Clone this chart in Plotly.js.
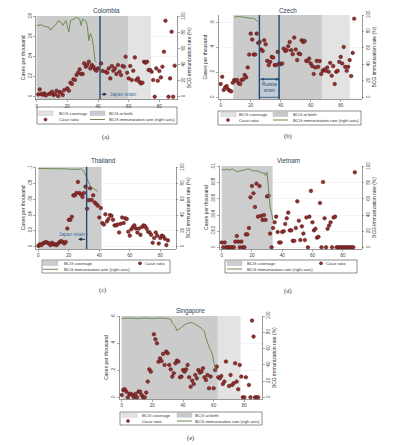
<!DOCTYPE html>
<html><head><meta charset="utf-8">
<script src="https://cdn.plot.ly/plotly-3.0.1.min.js"></script>
<style>html,body{margin:0;padding:0;background:#fff}#c{width:399px;height:445px}</style>
</head><body><div id="c"></div><script>
const W=399,H=445;
// ---------- DATA ----------
const colombiaAges=[1,2,3,4,5,6,8,9,10,11,12,13,14,15,16,17,18,20,21,22,23,24,25,26,27,28,29,30,31,32,33,34,35,36,37,38,39,40,
42,43,45,46,47,48,49,50,51,52,53,54,55,56,57,58,59,60,61,62,63,64,65,66,67,68,69,70,71,72,73,74,75,76,77,78,79,80,81,82,83,84,86,87,88,89,90];
const colombiaCases=[.0023,.0073,.0027,.002,.0033,.0013,.0027,.0033,.005,.0017,.0027,.006,.0007,.0047,.004,.0017,.0067,.0083,.006,.014,.0127,.0173,.0167,.0217,.024,.0273,.0227,.0227,.0333,.03,.0317,.035,.0283,.0317,.03,.0273,.026,.0283,
.0333,.0257,.025,.024,.0283,.0183,.0307,.026,.0283,.0227,.0317,.025,.0217,.0307,.03,.04,.024,.0183,.0307,.0167,.026,.0393,.0167,.0183,.015,.0133,.014,.035,.034,.035,.0267,.0267,.025,.0167,0,.0283,.016,.0257,.0193,.03,.045,.076,0,.0183,.065,0,.031];
const colombiaRateAges=[0,3,5,8,9,11,13,14,16,17,19,21,22,24,26,28,29,30,32,33,34,35,36,37,38,39];
const colombiaRate=[89,90,88,87,83,88,91,95,93,89,95,81,95,97,99,97,89,97,95,89,70,79,74,64,45,43];
const colombiaCoverage=[0,74.5], colombiaAtBirth=[0,59.5], colombiaStrain=[41.3];

const czechAges=Array.from({length:90},(_,i)=>i);
const czechCases=[.107,.165,.059,.08,.09,.064,.053,.048,.117,.139,.133,.139,.112,.107,.139,.144,.179,.16,.24,.344,.512,.464,.344,.344,.512,.437,.445,.384,.373,.459,.427,.293,.259,.285,.325,.32,.259,.259,.365,.272,.267,.272,.392,.373,.379,.411,.445,.379,.347,.48,.384,.299,.352,.347,.459,.445,.453,.293,.293,.312,.272,.251,.187,.24,.293,.245,.291,.187,.213,.224,.213,.24,.205,.277,.173,.251,.107,.205,.213,.285,.325,.272,.405,.245,.213,.245,.299,.171,.357,.632];
const czechRateAges=[9,10,13,16,19,20,22,23,24,25];
const czechRate=[97,98,98,97,96,96,96,95,93,92];
const czechCoverage=[8.5,86], czechAtBirth=[8.5,67.5], czechStrain=[25.8,38.9];

const thailandAges=Array.from({length:86},(_,i)=>i);
const thailandCases=[.001,.003,.002,.004,.005,.006,.005,.004,.002,.005,.003,.003,.002,.004,.006,.007,.006,.004,.006,.023,.034,.034,.038,.065,.065,.068,.082,.068,.066,.063,.068,.076,.048,.059,.074,.059,.065,.056,.054,.052,.037,.049,.030,.028,.041,.032,.035,.040,.039,.034,.027,.027,.028,.018,.029,.037,.030,.036,.035,.019,.014,.022,.025,.027,.023,.018,.023,.015,.025,.027,.026,.023,.019,.018,.015,.005,.011,.018,.014,.004,.011,.014,.013,.010,.002,.008];
const thailandRateAges=[0,4,8,12,16,19,20,22,24,26,28,29,30,31,32,33,34,35,36,37,38,39];
const thailandRate=[99,99,99,99,99,98.5,98,98,97.5,98,98.5,97.5,95,90,86,81,77,75,74,73,72,70];
const thailandCoverage=[0,41.5], thailandStrain=[31.7];

const vietnamAges=Array.from({length:89},(_,i)=>i);
const vietnamCases=[.0006,0,.0006,0,0,0,0,0,0,.0007,.0014,.0007,0,.0007,0,0,.0016,.0016,.0024,.0062,.0076,.0067,.005,.0079,.0038,.0076,.0039,.0034,.004,.0034,.0063,.0064,.0017,0,.0024,.0031,.0038,.0019,.0006,.0006,.0019,.002,.0029,.0036,.0043,.0021,.0021,.0008,.0008,.0024,.0057,.0033,.0009,.0026,.0017,.0009,.0037,0,.0038,.007,.0031,.0021,.0023,.0012,.0013,.0055,0,.0081,.0036,0,.0023,.0027,.0031,0,.0037,.0038,0,0,0,0,0,0,0,0,0,0,0,0,.0093];
const vietnamRateAges=[0,2,4,5,7,9,10,12,14,15,17,19,21,22,24,25,27,28,29,30,31,32,33,34];
const vietnamRate=[96.7,95.9,97.1,95.9,97.1,94.6,93.8,94.6,95,95.9,97.1,96.7,94.6,95,94.6,93.8,91.7,92.9,89,93,65,50,42,33];
const vietnamCoverage=[0,33.7];

const singaporeAges=[0,1,2,3,4,5,6,7,8,9,10,11,12,13,14,15,16,17,18,19,21,22,23,24,25,26,27,28,29,30,31,32,33,34,35,36,37,38,39,40,41,42,43,44,45,46,47,48,49,50,51,52,53,54,55,56,57,58,60,61,62,63,64,65,66,67,68,70,71,72,73,74,75,76,77,78,79,80,81,83,84,85,86,87,88,89];
const singaporeCases=[.017,.055,.06,.042,0,.025,.025,.017,0,.025,0,.042,.042,.017,0,0,.035,.117,.208,.191,.469,.432,.402,.265,.29,.27,.323,.241,.34,.328,.241,.208,.154,.179,.253,.273,.266,.149,.154,.203,.191,.208,.241,.149,.079,.124,.099,.166,.141,.203,.184,.191,.216,.149,.129,.166,.067,.154,.067,.203,.228,.149,.141,.159,.099,.117,.266,.084,.166,.092,.104,.253,.117,.06,.241,.154,0,0,.149,.092,0,.571,.452,0,0,0];
const singaporeRateAges=[0,5,10,15,20,25,30,32,33,35,36,38,39,41,43,46,48,50,52,54,55,57,59,60,61,62];
const singaporeRate=[97,97.5,97,97.5,97,97.5,97,96,91,87,82,84,86,89,91,92,90,88,85,81,72.5,62,54,44,36,32];
const singaporeCoverage=[0,77.5], singaporeAtBirth=[0,62.5];

const xTicks=[0,20,40,60,80];
const rTicks=[0,20,40,60,80,100];
// ---------- STYLE ----------
const C_BIRTH='#cbcbcb', C_COV='#e3e3e3', C_COV2='#cdcdcd';
const C_PT='#93302f', C_PTL='#4d1111', C_LINE='#6d8b52', C_STRAIN='#1f4e79';
const FT='Liberation Sans, Arial, sans-serif';

const P=[
 {title:'Colombia',cap:'(a)',capXY:[105,137],titleXY:[106,10],box:{l:36,r:177,t:16,b:99.5},x0:36.7,ppa:1.533,y0:96.7,yTop:16.7,yTopVal:.08,rTop:16.7,
  ticks:[0,.02,.04,.06,.08],tickText:['0','.02','.04','.06','.08'],ages:colombiaAges,cases:colombiaCases,rAges:colombiaRateAges,rate:colombiaRate,
  shades:[[colombiaCoverage,C_COV],[colombiaAtBirth,C_BIRTH]],strains:colombiaStrain,
  legend:{box:[37,107,177,124],items:[['rect',38,113.3,C_COV,57,'BCG coverage'],['rect',90,113.3,C_BIRTH,107,'BCG at birth'],['dot',45.5,119.5,null,57,'Case ratio'],['line',90,119.5,null,107,'BCG immunization arte (right axis)']]}},
 {title:'Czech',cap:'(b)',capXY:[288,136],titleXY:[288,10],box:{l:218.3,r:361.7,t:15,b:99.3},x0:220.7,ppa:1.5,y0:97.3,yTop:22.7,yTopVal:.6,rTop:15,
  ticks:[0,.2,.4,.6],tickText:['0','.2','.4','.6'],ages:czechAges,cases:czechCases,rAges:czechRateAges,rate:czechRate,
  shades:[[czechCoverage,C_COV],[czechAtBirth,C_BIRTH]],strains:czechStrain,
  legend:{box:[218,111,361,125],items:[['rect',221,114.3,C_COV,237,'BCG coverage'],['rect',273,114.3,C_BIRTH,291,'BCG at birth'],['dot',228,120,null,237,'Case ratio'],['line',273,120,null,291,'BCG immunization rate (right axis)']]}},
 {title:'Thailand',cap:'(c)',capXY:[102,290],titleXY:[103,160],box:{l:36,r:175.7,t:166.7,b:249},x0:38.3,ppa:1.525,y0:246.7,yTop:167.7,yTopVal:.1,rTop:167.7,
  ticks:[0,.02,.04,.06,.08,.1],tickText:['0','.02','.04','.06','.08','.1'],ages:thailandAges,cases:thailandCases,rAges:thailandRateAges,rate:thailandRate,
  shades:[[thailandCoverage,C_COV2]],strains:thailandStrain,
  legend:{box:[42,260,170,273],items:[['rect',43,263.3,C_COV2,62,'BCG coverage'],['dot',140,263.3,null,143,'Case ratio'],['line',43,269.3,null,62,'BCG immunization arte (right axis)']]}},
 {title:'Vietnam',cap:'(d)',capXY:[288,291],titleXY:[288,160],box:{l:219.3,r:361.7,t:166,b:249},x0:221.7,ppa:1.5125,y0:247.3,yTop:166.7,yTopVal:.01,rTop:166.7,
  ticks:[0,.002,.004,.006,.008,.01],tickText:['0','.002','.004','.006','.008','.01'],ages:vietnamAges,cases:vietnamCases,rAges:vietnamRateAges,rate:vietnamRate,
  shades:[[vietnamCoverage,C_COV2]],strains:[],
  legend:{box:[225,260,357,273],items:[['rect',227,263.3,C_COV2,245,'BCG coverage'],['dot',321,263.3,null,324,'Case ratio'],['line',227,269,null,245,'BCG immunization rate (right axis)']]}},
 {title:'Singapore',cap:'(e)',capXY:[190,438],titleXY:[190,311],box:{l:119.3,r:262.3,t:316,b:399.3},x0:121.7,ppa:1.533,y0:397.3,yTop:316.7,yTopVal:.6,rTop:316,
  ticks:[0,.2,.4,.6],tickText:['0','.2','.4','.6'],ages:singaporeAges,cases:singaporeCases,rAges:singaporeRateAges,rate:singaporeRate,
  shades:[[singaporeCoverage,C_COV],[singaporeAtBirth,C_BIRTH]],strains:[],
  legend:{box:[120,412,262,425],items:[['rect',122,415,C_COV,140,'BCG coverage'],['rect',177,415,C_BIRTH,193,'BCG at birth'],['dot',128,421,null,140,'Case ratio'],['line',177,421,null,193,'BCG immunization rate (righ axis)']]}}
];

const data=[], shapes=[], ann=[];
const layout={width:W,height:H,margin:{l:0,r:0,t:0,b:0},paper_bgcolor:'#fff',plot_bgcolor:'#fff',showlegend:false,barmode:'overlay',
  font:{family:FT,size:5,color:'#333'}};
const px=x=>x/W, py=y=>1-y/H;
const tickFont={family:FT,size:4.6,color:'#444'};

P.forEach((p,i)=>{
  const xid='x'+(i?i+1:''), yl='y'+(2*i+1===1?'':2*i+1), yr='y'+(2*i+2);
  const xk='xaxis'+(i?i+1:''), ylk='yaxis'+(2*i+1===1?'':2*i+1), yrk='yaxis'+(2*i+2);
  p.ids={xid,yl,yr};
  const b=p.box;
  const ppu=(p.y0-p.yTop)/p.yTopVal, ppr=(p.y0-p.rTop)/100;
  const yLo=-(b.b-p.y0)/ppu, yHi=(p.y0-b.t)/ppu;
  layout[xk]={domain:[px(b.l),px(b.r)],anchor:yl,range:[(b.l-p.x0)/p.ppa,(b.r-p.x0)/p.ppa],tickvals:xTicks,
    ticks:'outside',ticklen:2,tickwidth:.5,tickcolor:'#555',showline:true,linecolor:'#555',linewidth:.6,showgrid:false,zeroline:false,tickfont:tickFont};
  layout[ylk]={domain:[py(b.b),py(b.t)],anchor:xid,range:[yLo,yHi],tickvals:p.ticks,ticktext:p.tickText,tickangle:-90,
    ticks:'outside',ticklen:2,tickwidth:.5,tickcolor:'#555',showline:true,linecolor:'#555',linewidth:.6,showgrid:true,gridcolor:'#ebebeb',gridwidth:.5,zeroline:false,
    tickfont:tickFont,title:{text:'Cases per thousand',font:{family:FT,size:5,color:'#333'},standoff:1}};
  layout[yrk]={overlaying:yl,side:'right',anchor:xid,range:[-(b.b-p.y0)/ppr,(p.y0-b.t)/ppr],tickvals:rTicks,tickangle:-90,
    ticks:'outside',ticklen:2,tickwidth:.5,tickcolor:'#555',showline:true,linecolor:'#555',linewidth:.6,showgrid:false,zeroline:false,
    tickfont:tickFont,title:{text:'BCG immunization rate (%)',font:{family:FT,size:5,color:'#333'},standoff:1}};
  // shading as bars spanning the full plot height
  p.shades.forEach(([r,c])=>data.push({type:'bar',x:[(r[0]+r[1])/2],width:[r[1]-r[0]],base:[yLo],y:[yHi-yLo],xaxis:xid,yaxis:yl,
    marker:{color:c,line:{width:0}},hoverinfo:'skip'}));
  if(p.title==='Czech'){
    data.push({type:'bar',x:[(czechStrain[0]+czechStrain[1])/2],width:[czechStrain[1]-czechStrain[0]],base:[0],y:[.146],xaxis:xid,yaxis:yl,
      marker:{color:'#c4ccd7',line:{color:C_STRAIN,width:.8}},hoverinfo:'skip'});
  }
  p.strains.forEach(s=>shapes.push({type:'line',xref:xid,yref:yl+' domain',x0:s,x1:s,y0:0,y1:1,line:{color:C_STRAIN,width:1.4}}));
  data.push({type:'scatter',mode:'markers',x:p.ages,y:p.cases,xaxis:xid,yaxis:yl,cliponaxis:false,
    marker:{size:3.6,color:C_PT,line:{color:C_PTL,width:.5}}});
  data.push({type:'scatter',mode:'lines',x:p.rAges,y:p.rate,xaxis:xid,yaxis:yr,line:{color:C_LINE,width:1}});
  ann.push({xref:'paper',yref:'paper',x:px(p.titleXY[0]),y:py(p.titleXY[1]),text:p.title,showarrow:false,xanchor:'center',yanchor:'middle',font:{family:FT,size:6.3,color:'#2a3f5a'}});
  ann.push({xref:'paper',yref:'paper',x:px(p.capXY[0]),y:py(p.capXY[1]),text:p.cap,showarrow:false,xanchor:'center',yanchor:'middle',font:{family:'Liberation Serif, DejaVu Serif, serif',size:6.5,color:'#333'}});
  const L=p.legend, bx=L.box;
  shapes.push({type:'rect',xref:'paper',yref:'paper',x0:px(bx[0]),x1:px(bx[2]),y0:py(bx[3]),y1:py(bx[1]),line:{color:'#444',width:.6}});
  L.items.forEach(([t,x,y,c,tx,txt])=>{
    if(t==='rect') shapes.push({type:'rect',xref:'paper',yref:'paper',x0:px(x),x1:px(x+15),y0:py(y+2.3),y1:py(y-2.3),fillcolor:c,line:{color:'#aaa',width:.3}});
    if(t==='line') shapes.push({type:'line',xref:'paper',yref:'paper',x0:px(x),x1:px(x+15),y0:py(y),y1:py(y),line:{color:C_LINE,width:1}});
    if(t==='dot') shapes.push({type:'circle',xref:'paper',yref:'paper',x0:px(x-1.6),x1:px(x+1.6),y0:py(y+1.6),y1:py(y-1.6),fillcolor:C_PT,line:{color:C_PTL,width:.4}});
    ann.push({xref:'paper',yref:'paper',x:px(tx),y:py(y),text:txt,showarrow:false,xanchor:'left',yanchor:'middle',font:{family:FT,size:4.3,color:'#333'}});
  });
});
// strain annotations
ann.push({xref:'x',yref:'y',x:45.8,y:.0024,ax:41.3,ay:.0024,axref:'x',ayref:'y',text:'',showarrow:true,arrowhead:2,arrowsize:.7,arrowwidth:1,arrowcolor:'#1a2a3a'});
ann.push({xref:'x',yref:'y',x:46.3,y:.0024,text:'Japan strain',showarrow:false,xanchor:'left',yanchor:'middle',font:{family:FT,size:4.8,color:'#3b6ea5'}});
ann.push({xref:'x3',yref:'y5',x:26.2,y:.0094,ax:31.7,ay:.0094,axref:'x3',ayref:'y5',text:'',showarrow:true,arrowhead:2,arrowsize:.7,arrowwidth:1,arrowcolor:'#1a2a3a'});
ann.push({xref:'x3',yref:'y5',x:22.3,y:.0157,text:'Japan strain',showarrow:false,xanchor:'center',yanchor:'middle',font:{family:FT,size:4.8,color:'#3b6ea5'}});
ann.push({xref:'x2',yref:'y3',x:czechStrain[1],y:.146,ax:czechStrain[0],ay:.146,axref:'x2',ayref:'y3',text:'',showarrow:true,arrowhead:2,startarrowhead:2,arrowside:'end+start',arrowsize:.6,arrowwidth:1,arrowcolor:C_STRAIN});
ann.push({xref:'x2',yref:'y3',x:(czechStrain[0]+czechStrain[1])/2,y:.075,text:'Russia<br>strain',showarrow:false,xanchor:'center',yanchor:'middle',font:{family:FT,size:4.8,color:'#2b4f75'}});
layout.shapes=shapes; layout.annotations=ann;
Plotly.newPlot('c',data,layout,{staticPlot:true,displayModeBar:false});
</script></body></html>
